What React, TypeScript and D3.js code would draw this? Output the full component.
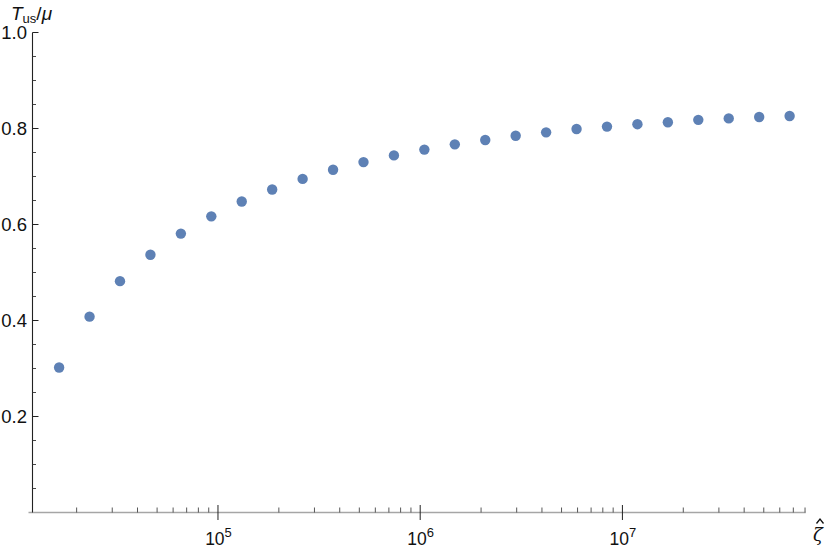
import * as d3 from "d3";
import React, { useEffect, useRef } from "react";

// zeta-hat values (sampled at sqrt(2) steps from 2^14 to 2^26)
const zetaValues = [
  16384, 23170, 32768, 46341, 65536, 92682, 131072, 185364, 262144, 370728,
  524288, 741455, 1048576, 1482910, 2097152, 2965821, 4194304, 5931642,
  8388608, 11863283, 16777216, 23726566, 33554432, 47453133, 67108864,
];
// T_us / mu
const ratioValues = [
  0.302, 0.408, 0.482, 0.537, 0.581, 0.617, 0.648, 0.673, 0.695, 0.714,
  0.73, 0.744, 0.756, 0.767, 0.776, 0.785, 0.792, 0.799, 0.804, 0.809,
  0.813, 0.818, 0.821, 0.824, 0.826,
];
const yMajorTicks = [0.2, 0.4, 0.6, 0.8, 1.0];
const yMinorTicks = [0.05, 0.1, 0.15, 0.25, 0.3, 0.35, 0.45, 0.5, 0.55, 0.65, 0.7, 0.75, 0.85, 0.9, 0.95];
const xMajorExponents = [5, 6, 7];

const App = () => {
  const svgRef = useRef<SVGSVGElement>(null);

  useEffect(() => {
    const width = 830;
    const height = 551;

    const svg = d3.select(svgRef.current);
    svg.selectAll("*").remove();
    svg.attr("width", width).attr("height", height);

    const font = "'Liberation Sans', Arial, sans-serif";

    const x = d3.scaleLog().domain([12100, 80600000]).range([32.5, 805.7]);
    const y = d3.scaleLinear().domain([0, 1]).range([512.5, 32.5]);

    const data = zetaValues.map((z, i) => ({ z, v: ratioValues[i] }));

    // x axis line (gray)
    svg.append("line")
      .attr("x1", 28.5).attr("x2", x(x.domain()[1]))
      .attr("y1", y(0)).attr("y2", y(0))
      .attr("stroke", "#a6a6a6")
      .attr("stroke-width", 1.3);

    // x minor ticks
    const minor: number[] = [];
    for (let e = 4; e <= 7; e++) {
      for (let m = 2; m <= 9; m++) {
        const v = m * Math.pow(10, e);
        if (v >= x.domain()[0] && v <= x.domain()[1]) minor.push(v);
      }
    }
    svg.selectAll(".xminor")
      .data(minor)
      .enter()
      .append("line")
      .attr("x1", d => x(d)).attr("x2", d => x(d))
      .attr("y1", y(0) - 5).attr("y2", y(0))
      .attr("stroke", "#444")
      .attr("stroke-width", 0.9);

    // x major ticks + labels
    xMajorExponents.forEach(e => {
      const px = x(Math.pow(10, e));
      svg.append("line")
        .attr("x1", px).attr("x2", px)
        .attr("y1", y(0) - 7.5).attr("y2", y(0) + 7.5)
        .attr("stroke", "#222")
        .attr("stroke-width", 1);
      const t = svg.append("text")
        .attr("x", px + 0.5)
        .attr("y", 544.5)
        .attr("text-anchor", "middle")
        .style("font-family", font)
        .style("font-size", "17.5px")
        .attr("fill", "#111");
      t.append("tspan").text("10");
      t.append("tspan")
        .attr("dy", -8)
        .style("font-size", "13px")
        .text(String(e));
    });

    // y axis line
    svg.append("line")
      .attr("x1", 32.5).attr("x2", 32.5)
      .attr("y1", y(0)).attr("y2", y(1))
      .attr("stroke", "#222")
      .attr("stroke-width", 1.1);

    svg.selectAll(".yminor")
      .data(yMinorTicks)
      .enter()
      .append("line")
      .attr("x1", 32.5).attr("x2", 36)
      .attr("y1", d => y(d)).attr("y2", d => y(d))
      .attr("stroke", "#333")
      .attr("stroke-width", 0.9);

    svg.selectAll(".ymajor")
      .data(yMajorTicks)
      .enter()
      .append("line")
      .attr("x1", 32.5).attr("x2", 38.5)
      .attr("y1", d => y(d)).attr("y2", d => y(d))
      .attr("stroke", "#222")
      .attr("stroke-width", 1);

    svg.selectAll(".ylabel")
      .data(yMajorTicks)
      .enter()
      .append("text")
      .attr("x", 27)
      .attr("y", d => y(d) + 6.5)
      .attr("text-anchor", "end")
      .style("font-family", font)
      .style("font-size", "18.5px")
      .attr("fill", "#111")
      .text(d => d3.format(".1f")(d));

    // axis titles
    const yt = svg.append("text")
      .attr("x", 11)
      .attr("y", 20)
      .style("font-family", font)
      .style("font-size", "19px")
      .attr("fill", "#111");
    yt.append("tspan").style("font-style", "italic").text("T");
    yt.append("tspan").attr("dy", 3).style("font-size", "13px").text("us");
    yt.append("tspan").attr("dy", -3).text("/");
    yt.append("tspan").style("font-style", "italic").text("μ");

    svg.append("text")
      .attr("x", 813)
      .attr("y", 541)
      .style("font-family", "'DejaVu Serif', serif")
      .style("font-size", "18px")
      .style("font-style", "italic")
      .attr("fill", "#111")
      .text("ζ");
    // circumflex over the zeta
    svg.append("path")
      .attr("d", "M816.5,523.5 L820,519 L823.5,523.5")
      .attr("fill", "none")
      .attr("stroke", "#111")
      .attr("stroke-width", 1.3);

    // points
    svg.selectAll(".pt")
      .data(data)
      .enter()
      .append("circle")
      .attr("cx", d => x(d.z))
      .attr("cy", d => y(d.v))
      .attr("r", 5.2)
      .attr("fill", "#5e81b5");
  }, []);

  return <svg ref={svgRef} style={{ position: "absolute", left: 0, top: 0 }} />;
};

export default App;
